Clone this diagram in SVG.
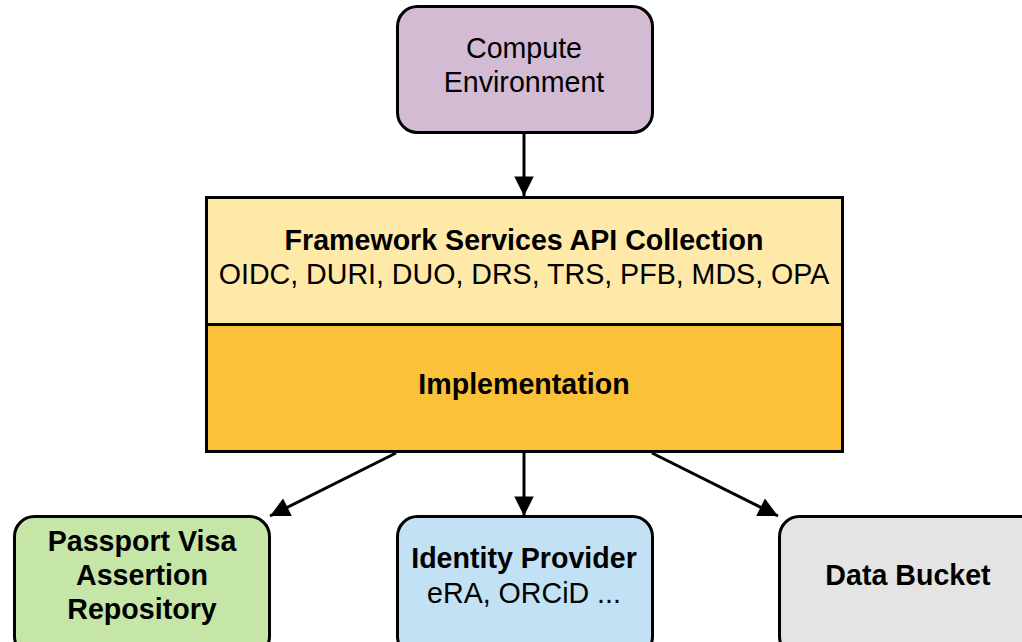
<svg xmlns="http://www.w3.org/2000/svg" width="1022" height="642" viewBox="0 0 1022 642">
  <style>
    .box { stroke: #000; stroke-width: 3; }
    .t { font-family: "Liberation Sans", Arial, sans-serif; font-size: 28.6px; fill: #000; text-anchor: middle; }
    .b { font-weight: bold; }
    .edge { stroke: #000; stroke-width: 3; fill: none; marker-end: url(#arrow); }
  </style>
  <defs>
    <marker id="arrow" viewBox="0 0 10 10" refX="10" refY="5" markerWidth="9" markerHeight="6.5" markerUnits="strokeWidth" orient="auto">
      <path d="M0,0 L10,5 L0,10 z" fill="#000"/>
    </marker>
  </defs>
  <rect width="1022" height="642" fill="#fff"/>

  <g id="connectors">
    <line class="edge" x1="524" y1="133" x2="524" y2="196"/>
    <line class="edge" x1="396" y1="453" x2="270" y2="516"/>
    <line class="edge" x1="524" y1="453" x2="524" y2="516"/>
    <line class="edge" x1="652" y1="453" x2="778" y2="516"/>
  </g>

  <g id="compute-environment">
    <rect class="box" x="397.5" y="6.5" width="255" height="126" rx="20" fill="#d3bbd3"/>
    <text class="t" x="524" y="58">Compute</text>
    <text class="t" x="524" y="92">Environment</text>
  </g>

  <g id="framework-services">
    <rect class="box" x="206.5" y="197.5" width="636" height="127" fill="#fee9a8"/>
    <text class="t b" x="524" y="250">Framework Services API Collection</text>
    <text class="t" x="524" y="284">OIDC, DURI, DUO, DRS, TRS, PFB, MDS, OPA</text>
  </g>

  <g id="implementation">
    <rect class="box" x="206.5" y="324.5" width="636" height="127" fill="#fbc138"/>
    <text class="t b" x="524" y="394">Implementation</text>
  </g>

  <g id="passport-visa">
    <rect class="box" x="14.5" y="516.5" width="255" height="140" rx="20" fill="#c6e6a8"/>
    <text class="t b" x="142" y="551">Passport Visa</text>
    <text class="t b" x="142" y="585">Assertion</text>
    <text class="t b" x="142" y="619">Repository</text>
  </g>

  <g id="identity-provider">
    <rect class="box" x="397.5" y="516.5" width="255" height="140" rx="20" fill="#c2e1f5"/>
    <text class="t b" x="524" y="568">Identity Provider</text>
    <text class="t" x="524" y="603">eRA, ORCiD ...</text>
  </g>

  <g id="data-bucket">
    <rect class="box" x="779.5" y="516.5" width="270" height="140" rx="20" fill="#e4e4e4"/>
    <text class="t b" x="908" y="585">Data Bucket</text>
  </g>
</svg>
